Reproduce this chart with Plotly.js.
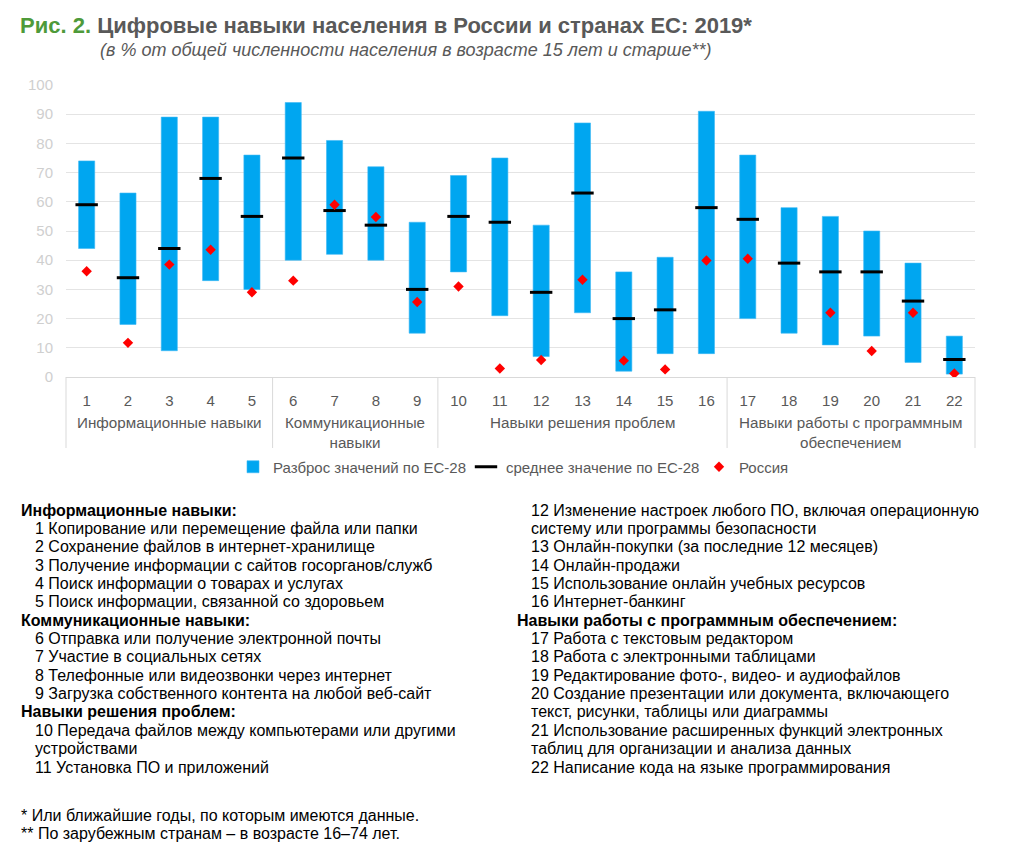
<!DOCTYPE html>
<html>
<head>
<meta charset="utf-8">
<script src="https://cdn.plot.ly/plotly-3.0.1.min.js"></script>
<style>
html,body{margin:0;padding:0;background:#fff;}
#chart{width:1020px;height:856px;}
</style>
</head>
<body>
<div id="chart"></div>
<script>
// ---------- DATA ----------
const categories = ['1','2','3','4','5','6','7','8','9','10','11','12','13','14','15','16','17','18','19','20','21','22'];
const euMin  = [44, 18,  9, 33, 30, 40, 42, 40, 15, 36, 21,  7, 22,  2,  8,  8, 20, 15, 11, 14,  5,  1];
const euMax  = [74, 63, 89, 89, 76, 94, 81, 72, 53, 69, 75, 52, 87, 36, 41, 91, 76, 58, 55, 50, 39, 14];
const euMean = [59, 34, 44, 68, 55, 75, 57, 52, 30, 55, 53, 29, 63, 20, 23, 58, 54, 39, 36, 36, 26,  6];
const russia = [36.2, 11.7, 38.5, 43.6, 29, 33, 59, 54.8, 25.7, 31, 2.9, 5.8, 33.3, 5.6, 2.6, 39.9, 40.5, null, 22, 8.9, 22, 1.2];

const groupNames = ['Информационные навыки', 'Коммуникационные<br>навыки', 'Навыки решения проблем', 'Навыки работы с программным<br>обеспечением'];
const groupSizes = [5, 4, 7, 6];

const seriesNames = ['Разброс значений по ЕС-28', 'среднее значение по ЕС-28', 'Россия'];

const titleMain = 'Цифровые навыки населения в России и странах ЕС: 2019*';
const titleFig = 'Рис. 2.';
const subtitle = '(в % от общей численности населения в возрасте 15 лет и старше**)';

const leftNotes = [
  ['b','Информационные навыки:'],
  ['i','1 Копирование или перемещение файла или папки'],
  ['i','2 Сохранение файлов в интернет-хранилище'],
  ['i','3 Получение информации с сайтов госорганов/служб'],
  ['i','4 Поиск информации о товарах и услугах'],
  ['i','5 Поиск информации, связанной со здоровьем'],
  ['b','Коммуникационные навыки:'],
  ['i','6 Отправка или получение электронной почты'],
  ['i','7 Участие в социальных сетях'],
  ['i','8 Телефонные или видеозвонки через интернет'],
  ['i','9 Загрузка собственного контента на любой веб-сайт'],
  ['b','Навыки решения проблем:'],
  ['i','10 Передача файлов между компьютерами или другими'],
  ['i','устройствами'],
  ['i','11 Установка ПО и приложений']
];
const rightNotes = [
  ['i','12 Изменение настроек любого ПО, включая операционную'],
  ['i','систему или программы безопасности'],
  ['i','13 Онлайн-покупки (за последние 12 месяцев)'],
  ['i','14 Онлайн-продажи'],
  ['i','15 Использование онлайн учебных ресурсов'],
  ['i','16 Интернет-банкинг'],
  ['b','Навыки работы с программным обеспечением:'],
  ['i','17 Работа с текстовым редактором'],
  ['i','18 Работа с электронными таблицами'],
  ['i','19 Редактирование фото-, видео- и аудиофайлов'],
  ['i','20 Создание презентации или документа, включающего'],
  ['i','текст, рисунки, таблицы или диаграммы'],
  ['i','21 Использование расширенных функций электронных'],
  ['i','таблиц для организации и анализа данных'],
  ['i','22 Написание кода на языке программирования']
];
const footnotes = ['* Или ближайшие годы, по которым имеются данные.', '** По зарубежным странам – в возрасте 16–74 лет.'];

// ---------- LAYOUT HELPERS ----------
const FONT = 'Liberation Sans, Arial, Helvetica, sans-serif';
const L = 66, R = 975, T = 85, B = 377;
const W = 1020, H = 856;
const PW = R - L, PH = B - T;
const px = x => (x - L) / PW;
const py = y => (B - y) / PH;

const span = euMax.map((v, i) => v - euMin[i]);

const traces = [
  {
    type: 'bar', name: seriesNames[0], x: categories, y: span, base: euMin,
    width: 0.39, marker: {color: '#00A6F0', line: {color: '#3DB8F5', width: 0.6}},
    hoverinfo: 'skip'
  },
  {
    type: 'scatter', mode: 'markers', name: seriesNames[1], x: categories, y: euMean,
    marker: {symbol: 'line-ew', size: 16, color: '#000', line: {color: '#000', width: 3}}
  },
  {
    type: 'scatter', mode: 'markers', name: seriesNames[2], x: categories, y: russia,
    marker: {symbol: 'diamond', size: 8, color: '#FF0000', line: {width: 0}}
  }
];

const annotations = [];
const shapes = [];

// subtitle
annotations.push({xref:'paper', yref:'paper', x: px(406), y: py(50), xanchor:'center', yanchor:'middle',
  text: '<i>' + subtitle + '</i>', showarrow:false, font:{family:FONT, size:18, color:'#595959'}});

// group labels & dividers
let start = 0;
const n = categories.length;
const boundaries = [0];
groupSizes.forEach((s, gi) => {
  const end = start + s;
  boundaries.push(end);
  const cx = (start + end) / 2 / n;
  annotations.push({xref:'paper', yref:'paper', x: cx, y: py(412), xanchor:'center', yanchor:'top',
    text: groupNames[gi], showarrow:false, align:'center',
    font:{family:FONT, size:15.2, color:'#595959'}});
  start = end;
});
boundaries.forEach(b => {
  shapes.push({type:'line', xref:'paper', yref:'paper', x0: b / n, x1: b / n, y0: 0, y1: py(448),
    line:{color:'#D9D9D9', width:1}});
});

// notes
const lineY = k => 510 + 18.36 * k;
function addNotes(list, xHead, xItem) {
  list.forEach((row, k) => {
    const bold = row[0] === 'b';
    annotations.push({xref:'paper', yref:'paper', x: px(bold ? xHead : xItem), y: py(lineY(k)),
      xanchor:'left', yanchor:'middle', showarrow:false,
      text: bold ? '<b>' + row[1] + '</b>' : row[1],
      font:{family:FONT, size:16, color:'#000'}});
  });
}
addNotes(leftNotes, 19, 33);
addNotes(rightNotes, 515, 529);
footnotes.forEach((t, k) => {
  annotations.push({xref:'paper', yref:'paper', x: px(19), y: py(815 + 18.4 * k),
    xanchor:'left', yanchor:'middle', showarrow:false, text: t,
    font:{family:FONT, size:16, color:'#000'}});
});

const layout = {
  width: W, height: H,
  margin: {l: L, r: W - R, t: T, b: H - B, pad: 0},
  paper_bgcolor: '#fff', plot_bgcolor: '#fff',
  font: {family: FONT, color: '#595959'},
  title: {
    text: '<b><span style="color:#4E9A3A">' + titleFig + '</span> ' + titleMain + '</b>',
    xref: 'container', yref: 'container', x: 20 / W, xanchor: 'left', y: 1 - 25 / H, yanchor: 'middle',
    font: {family: FONT, size: 22, color: '#595959'}
  },
  showlegend: true,
  legend: {
    orientation: 'h', xref: 'paper', yref: 'paper', x: px(233), xanchor: 'left', y: py(467), yanchor: 'middle',
    font: {family: FONT, size: 15, color: '#595959'}, entrywidth: 188, entrywidthmode: 'pixels',
    bgcolor: 'rgba(0,0,0,0)', itemclick: false, traceorder: 'normal'
  },
  xaxis: {
    type: 'category', range: [-0.5, n - 0.5], showgrid: false, zeroline: false,
    showline: true, linecolor: '#D9D9D9', linewidth: 1, ticks: '',
    tickfont: {family: FONT, size: 15, color: '#595959'}, ticklabelstandoff: 10, fixedrange: true
  },
  yaxis: {
    range: [0, 100], dtick: 10, showgrid: true, gridcolor: '#E4E4E4', gridwidth: 1,
    zeroline: false, showline: false, ticks: '',
    tickfont: {family: FONT, size: 15, color: '#CFCFCF'}, ticklabelstandoff: 12, fixedrange: true
  },
  bargap: 0.6,
  annotations: annotations,
  shapes: shapes
};

Plotly.newPlot('chart', traces, layout, {displayModeBar: false, staticPlot: true});
</script>
</body>
</html>
